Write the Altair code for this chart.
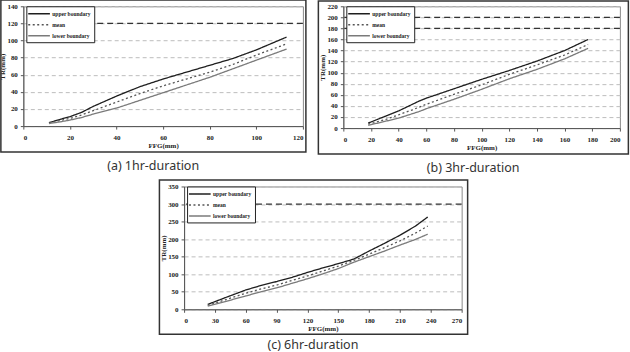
import altair as alt
import pandas as pd

SERIES = ["upper boundary", "mean", "lower boundary"]

# (a) 1hr-duration
a_ffg = [11, 16, 20, 25, 30, 40, 50, 60, 70, 80, 90, 100, 113]
a_upper = [4, 8, 11, 16, 23, 35, 46, 55, 63, 71, 79, 89, 104]
a_mean = [3.5, 6.5, 9, 13, 18, 28, 38, 47, 55, 63, 72, 83, 96]
a_lower = [3, 5, 7, 10, 14, 21, 30, 39, 48, 57, 67, 77, 90]
a_limits = [120]

# (b) 3hr-duration
b_ffg = [18, 30, 40, 50, 55, 60, 80, 100, 120, 140, 160, 177]
b_upper = [9, 21, 31, 43, 49, 54, 71, 88, 104, 121, 140, 160]
b_mean = [7, 15, 24, 33, 38, 43, 61, 78, 97, 114, 132, 151]
b_lower = [5, 12, 18, 26, 30, 35, 52, 70, 89, 106, 125, 144]
b_limits = [200, 180]

# (c) 6hr-duration
c_ffg = [23, 40, 60, 75, 90, 105, 120, 135, 150, 165, 180, 195, 210, 225, 237]
c_upper = [14, 33, 55, 68, 79, 91, 105, 118, 130, 143, 166, 188, 211, 237, 263]
c_mean = [11, 27, 46, 58, 69, 82, 95, 109, 123, 139, 157, 176, 195, 217, 237]
c_lower = [9, 22, 38, 50, 61, 74, 87, 101, 116, 134, 150, 166, 183, 199, 214]
c_limits = [300]

SERIF = "Liberation Serif"

# short horizontal stroke, offset to the right of the symbol centre
LEGEND_LINE = "M-1.6,0H4.6"


def panel(ffg, upper, mean, lower, limits, xmax, xstep, ymax, ystep,
          caption, w, h, frame, cap_xy):
    rows = []
    for name, vals in zip(SERIES, (upper, mean, lower)):
        for x, y in zip(ffg, vals):
            rows.append({"FFG": x, "TR": y, "series": name})
    df = pd.DataFrame(rows)

    xscale = alt.Scale(domain=[0, xmax], nice=False)
    yscale = alt.Scale(domain=[0, ymax], nice=False)

    leg = alt.Legend(
        title=None, orient="none", legendX=3, legendY=0,
        symbolType=LEGEND_LINE, symbolSize=49, symbolStrokeWidth=1.4,
        labelFont=SERIF, labelFontWeight="bold", labelFontSize=5.5,
        labelColor="#222", labelOffset=14, rowPadding=3, padding=3,
        strokeColor="#222", fillColor="white", cornerRadius=0,
    )

    x_axis = alt.Axis(values=list(range(0, xmax + 1, xstep)), title="FFG(mm)",
                      grid=False, format="d", labelOverlap=False)
    y_axis = alt.Axis(values=list(range(0, ymax + 1, ystep)), title="TR(mm)",
                      grid=True, format="d", labelOverlap=False)

    lines = alt.Chart(df).mark_line(strokeWidth=1.3).encode(
        x=alt.X("FFG:Q", scale=xscale, axis=x_axis),
        y=alt.Y("TR:Q", scale=yscale, axis=y_axis),
        color=alt.Color("series:N", sort=SERIES,
                        scale=alt.Scale(domain=SERIES,
                                        range=["#1e1e1e", "#555555", "#7a7a7a"]),
                        legend=leg),
        strokeDash=alt.StrokeDash("series:N", sort=SERIES,
                                  scale=alt.Scale(domain=SERIES,
                                                  range=[[1, 0], [2, 2.5], [1, 0]]),
                                  legend=leg),
    )

    lim = alt.Chart(pd.DataFrame({"TR": limits})).mark_rule(
        color="#333", strokeDash=[6, 4], strokeWidth=1.2
    ).encode(y=alt.Y("TR:Q", scale=yscale, axis=y_axis))

    l, r, t, b = frame
    box = alt.Chart(pd.DataFrame({"k": [0]})).mark_rect(
        fillOpacity=0, stroke="#333", strokeWidth=1.5
    ).encode(x=alt.value(l), x2=alt.value(w + r), y=alt.value(t), y2=alt.value(h + b))

    cx, cy = cap_xy
    cap = alt.Chart(pd.DataFrame({"caption": [caption]})).mark_text(
        font="Noto Sans", fontSize=12.5, color="#333", baseline="middle"
    ).encode(text="caption:N", x=alt.value(cx), y=alt.value(h + cy))

    return alt.layer(box, lines, lim, cap).properties(width=w, height=h)


pa = panel(a_ffg, a_upper, a_mean, a_lower, a_limits, 120, 20, 140, 20,
           "(a) 1hr-duration", 280, 120, (-22.5, 3, -6.25, 26), (130, 40))
pb = panel(b_ffg, b_upper, b_mean, b_lower, b_limits, 200, 20, 220, 20,
           "(b) 3hr-duration", 277, 122, (-25, 8.5, -5.25, 26), (130, 40))
pc = panel(c_ffg, c_upper, c_mean, c_lower, c_limits, 270, 30, 350, 50,
           "(c) 6hr-duration", 278, 123, (-24.7, 6, -6.5, 25), (129, 35.5))

top = alt.hconcat(pa, pb, spacing=8.5).resolve_scale(
    x="independent", y="independent", color="independent", strokeDash="independent"
).resolve_legend(color="independent", strokeDash="independent")

chart = alt.vconcat(top, pc, spacing=3.5, center=True).resolve_scale(
    x="independent", y="independent", color="independent", strokeDash="independent"
).resolve_legend(
    color="independent", strokeDash="independent"
).properties(
    padding={"left": -2, "top": -2, "right": 0, "bottom": 0}, background="white"
).configure_view(
    stroke="#8a8a8a", strokeWidth=1
).configure_axis(
    labelFont=SERIF, labelFontWeight="bold", labelFontSize=7, labelColor="#222",
    titleFont=SERIF, titleFontWeight="bold", titleFontSize=7, titleColor="#222",
    domainColor="#555", tickColor="#555", tickSize=3,
    gridColor="#bdbdbd", gridDash=[4, 3], gridWidth=1,
).configure_axisX(
    labelPadding=4, titlePadding=1
).configure_axisY(
    labelPadding=3, titlePadding=1
)

chart.save("out.html", embed_options={"renderer": "svg", "actions": False})
